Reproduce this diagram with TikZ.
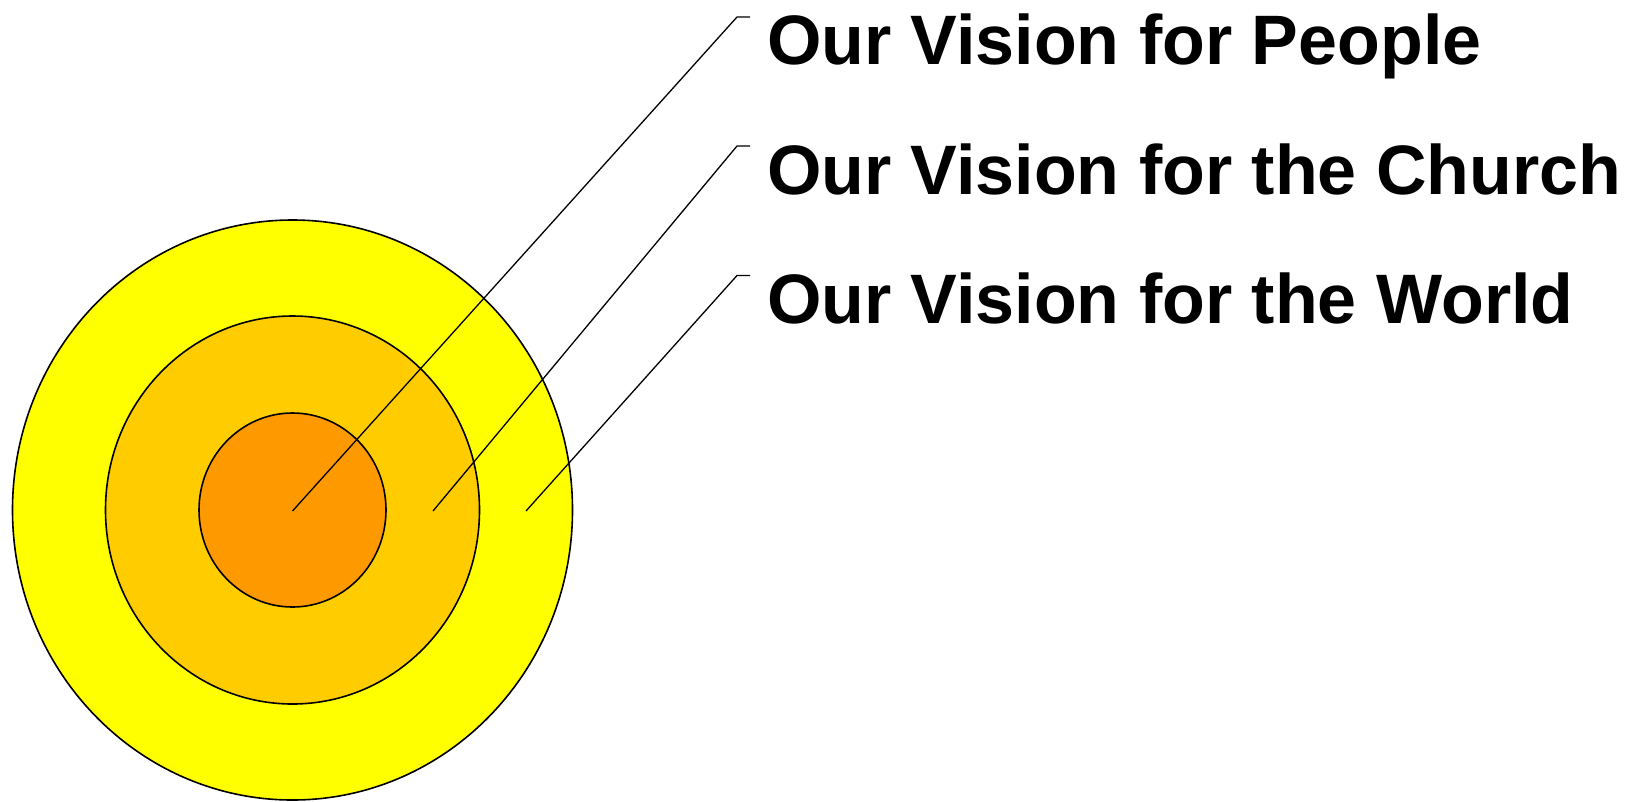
\documentclass[tikz,border=0pt]{standalone}
\usepackage{fontspec}
\setmainfont{Liberation Sans}
\usetikzlibrary{shapes.geometric}
\definecolor{ringouter}{HTML}{FFFF00}
\definecolor{ringmid}{HTML}{FFCC00}
\definecolor{ringinner}{HTML}{FF9900}
\begin{document}
\begin{tikzpicture}[x=1pt,y=-1pt,
  ring/.style={ellipse,draw=black,line width=1.6pt,inner sep=0pt,outer sep=0pt},
  leader/.style={draw=black,line width=1.3pt},
  label/.style={anchor=base west,inner sep=0pt,outer sep=0pt,font=\fontsize{70}{84}\selectfont\bfseries}]
\useasboundingbox (0,0) rectangle (1629,801);
\fill[white] (0,0) rectangle (1629,801);
\node[ring,fill=ringouter,minimum width=560pt,minimum height=580pt] (outer) at (292.5,510) {};
\node[ring,fill=ringmid,minimum width=374pt,minimum height=388pt] (middle) at (292.5,510) {};
\node[ring,fill=ringinner,minimum width=187pt,minimum height=194pt] (inner) at (292.5,510) {};
\coordinate (s1) at (292.5,511);
\coordinate (s2) at (433,511);
\coordinate (s3) at (526,511);
\coordinate (b1) at (737,17);
\coordinate (b2) at (737,146);
\coordinate (b3) at (737,275.5);
\coordinate (e1) at (750,17);
\coordinate (e2) at (750,146);
\coordinate (e3) at (750,275.5);
\node[label] (people) at (767,64.5) {Our Vision for People};
\node[label] (church) at (767,194) {Our Vision for the Church};
\node[label] (world) at (767,323) {Our Vision for the World};
\draw[leader] (s1) -- (b1) -- (e1);
\draw[leader] (s2) -- (b2) -- (e2);
\draw[leader] (s3) -- (b3) -- (e3);
\end{tikzpicture}
\end{document}
